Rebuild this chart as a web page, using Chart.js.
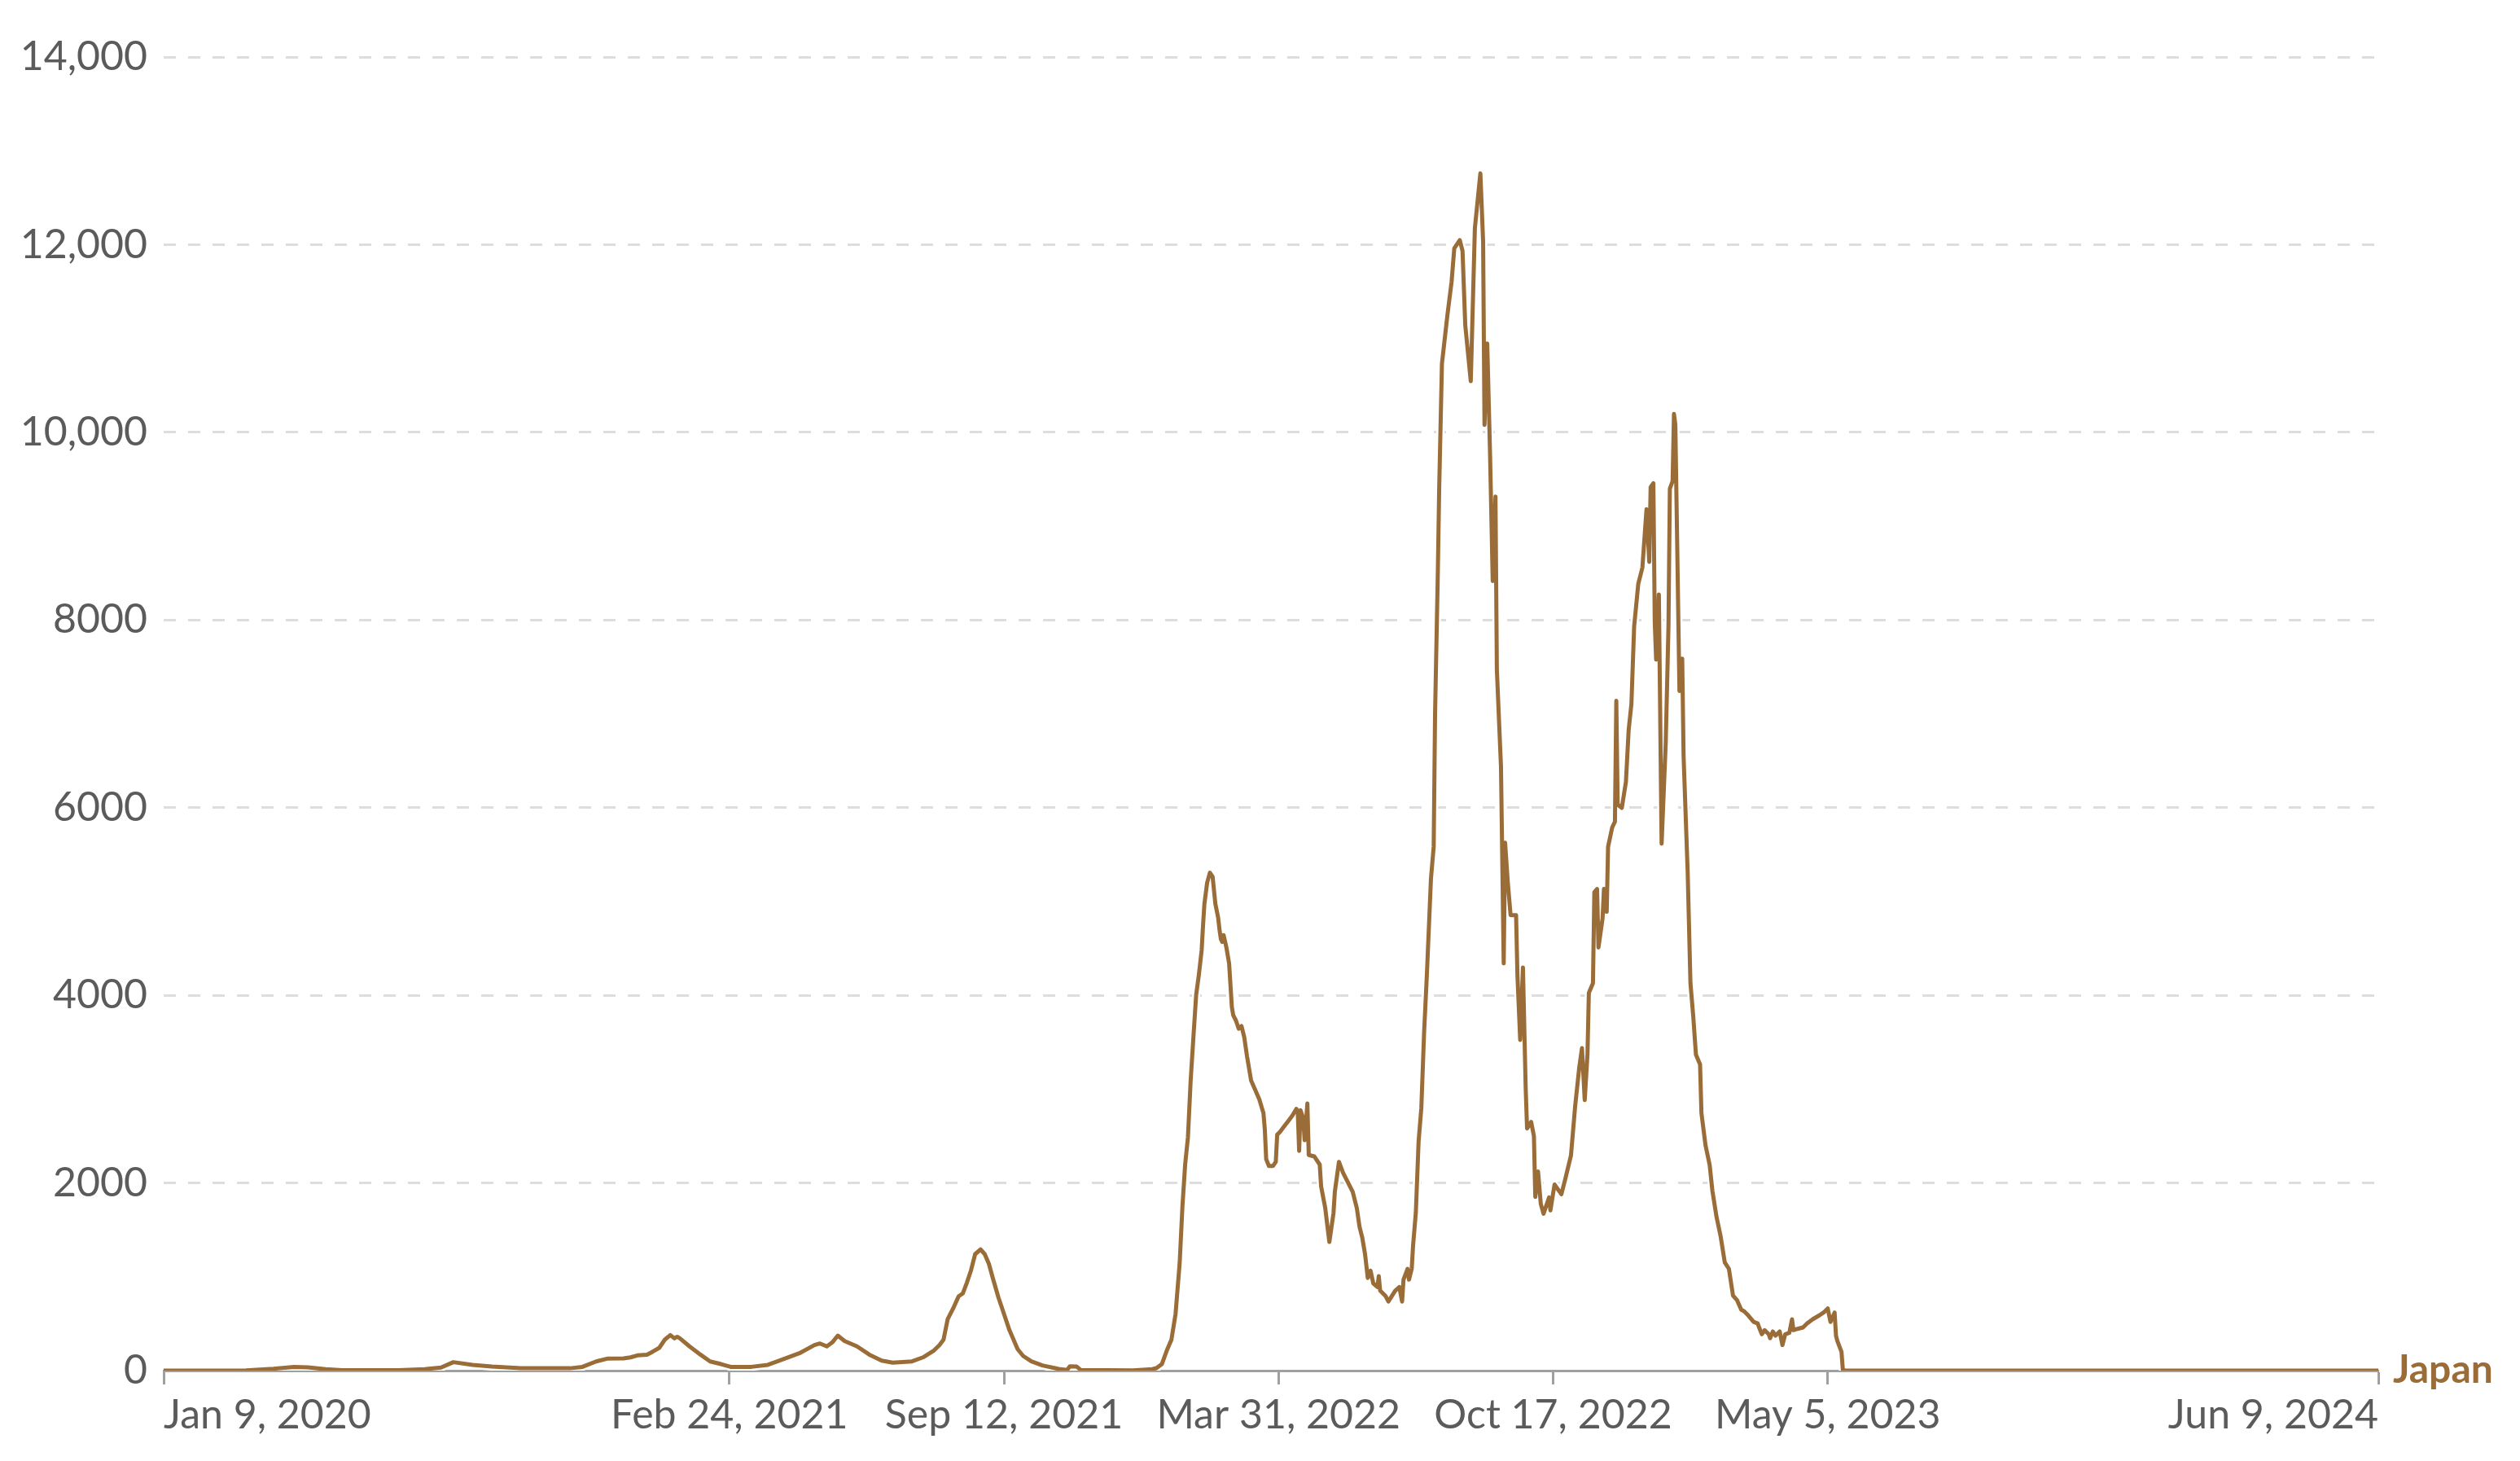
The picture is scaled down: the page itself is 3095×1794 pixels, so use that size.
<!DOCTYPE html>
<html>
<head>
<meta charset="utf-8">
<script src="https://cdn.jsdelivr.net/npm/chart.js@4.4.1/dist/chart.umd.min.js"></script>
<style>
  html, body { margin: 0; padding: 0; background: #fff; }
  #wrap { width: 3095px; height: 1794px; position: relative; }
</style>
</head>
<body>
<div id="wrap"><canvas id="chart"></canvas></div>
<script>
// days since Jan 9, 2020 (first date on the axis)
const days = [
  0, 60, 80, 95, 105, 118, 130, 171, 190, 202,
  211, 225, 239, 260, 296, 305, 315, 323, 335, 340,
  345, 352, 356, 361, 365, 369, 372, 374, 376, 383,
  391, 398, 406, 413, 428, 440, 447, 463, 474, 478,
  483, 487, 491, 496, 505, 514, 523, 531, 545, 553,
  561, 565, 568, 571, 575, 579, 582, 585, 588, 591,
  595, 598, 601, 604, 608, 612, 616, 622, 626, 632,
  640, 652, 658, 660, 665, 668, 706, 720, 723, 727,
  731, 734, 737, 740, 742, 744, 746, 748, 750, 752,
  754, 756, 757, 758, 760, 762, 764, 766, 768, 769,
  770, 771, 772, 774, 776, 778, 779, 781, 783, 785,
  787, 789, 792, 795, 798, 801, 802, 803, 805, 808,
  810, 811, 813, 816, 819, 822, 825, 826, 827, 828,
  830, 831, 833, 834, 838, 842, 843, 846, 849, 852,
  853, 856, 859, 862, 866, 869, 871, 873, 875, 877,
  879, 881, 884, 885, 886, 890, 892, 897, 900, 902,
  903, 906, 907, 909, 910, 912, 914, 916, 918, 920,
  922, 923, 925, 926, 928, 929, 931, 935, 938, 940,
  944, 946, 948, 952, 955, 959, 961, 962, 964, 966,
  968, 970, 971, 974, 976, 977, 979, 981, 985, 986,
  988, 990, 992, 993, 996, 998, 999, 1001, 1003, 1005,
  1009, 1010, 1013, 1018, 1021, 1025, 1028, 1031, 1033, 1035,
  1037, 1038, 1041, 1042, 1044, 1045, 1048, 1049, 1051, 1052,
  1055, 1057, 1058, 1059, 1062, 1065, 1067, 1069, 1071, 1074,
  1077, 1080, 1082, 1083, 1085, 1086, 1087, 1089, 1091, 1094,
  1096, 1097, 1099, 1100, 1101, 1104, 1106, 1107, 1110, 1112,
  1114, 1116, 1119, 1120, 1123, 1126, 1128, 1131, 1134, 1137,
  1140, 1143, 1146, 1149, 1151, 1154, 1158, 1161, 1162, 1164,
  1166, 1169, 1170, 1172, 1174, 1177, 1179, 1181, 1184, 1186,
  1187, 1190, 1194, 1197, 1201, 1206, 1209, 1212, 1214, 1217,
  1218, 1219, 1222, 1223, 1225, 1613
];

const japanValues = [
  0, 2, 20, 40, 35, 15, 5, 5, 15, 32,
  90, 60, 43, 25, 25, 40, 98, 127, 130, 141,
  162, 170, 200, 243, 330, 379, 344, 361, 344, 258,
  170, 98, 69, 40, 40, 61, 98, 185, 272, 289,
  258, 301, 373, 315, 258, 170, 107, 84, 98, 141,
  214, 272, 330, 547, 662, 792, 822, 937, 1068, 1241,
  1291, 1241, 1140, 981, 779, 605, 431, 228, 156, 98,
  55, 17, 6, 46, 43, 6, 3, 15, 26, 69,
  228, 330, 605, 1150, 1750, 2200, 2485, 3093, 3556, 4004,
  4221, 4481, 4742, 4974, 5200, 5306, 5263, 4974, 4829, 4698,
  4598, 4569, 4641, 4511, 4338, 3874, 3787, 3730, 3643, 3672,
  3556, 3353, 3093, 2992, 2890, 2745, 2572, 2254, 2181, 2181,
  2225, 2514, 2543, 2601, 2659, 2717, 2789, 2760, 2341, 2775,
  2688, 2456, 2847, 2298, 2283, 2196, 1964, 1733, 1371, 1675,
  1907, 2225, 2109, 2022, 1907, 1733, 1530, 1415, 1241, 988,
  1065, 930, 891, 1007, 852, 794, 736, 852, 891, 736,
  969, 1085, 969, 1085, 1337, 1686, 2441, 2800, 3600, 4211,
  4897, 5241, 5584, 7000, 8500, 9400, 10731, 11250, 11600, 11961,
  12048, 11933, 11140, 10545, 12178, 12760, 12030, 10080, 10947, 9800,
  8415, 9316, 7472, 6442, 4340, 5627, 5200, 4855, 4855, 4211,
  3524, 4297, 3010, 2581, 2650, 2500, 1851, 2122, 1776, 1672,
  1845, 1707, 1983, 1880, 2052, 2295, 2814, 3229, 3437, 2883,
  3368, 4025, 4129, 5098, 5133, 4509, 4821, 5133, 4890, 5582,
  5789, 5850, 7139, 6032, 5997, 6274, 6828, 7104, 7934, 8385,
  8558, 9180, 8619, 9415, 9458, 7982, 7578, 8272, 5616, 6689,
  7934, 9400, 9480, 10196, 10080, 7243, 7589, 6551, 5305, 4129,
  3783, 3368, 3264, 2745, 2399, 2192, 1915, 1638, 1430, 1154,
  1085, 800, 749, 648, 634, 590, 520, 503, 460, 388,
  431, 388, 345, 417, 373, 417, 272, 388, 402, 547,
  431, 445, 460, 503, 547, 590, 619, 662, 518, 619,
  373, 315, 200, 11, 0, 0
];

const xTickDays = [0, 412, 612, 812, 1012, 1212, 1613];
const yTickValues = [0, 2000, 4000, 6000, 8000, 10000, 12000, 14000];
const seriesName = 'Japan';

const START = Date.UTC(2020, 0, 9);
const MONTHS = ['Jan', 'Feb', 'Mar', 'Apr', 'May', 'Jun', 'Jul', 'Aug', 'Sep', 'Oct', 'Nov', 'Dec'];
const LINE_COLOR = '#9a6d38';
const TEXT_COLOR = '#5b5b5b';
const FONT = 'Lato, "DejaVu Sans", sans-serif';

function dayLabel(d) {
  const dt = new Date(START + d * 86400000);
  return MONTHS[dt.getUTCMonth()] + ' ' + dt.getUTCDate() + ', ' + dt.getUTCFullYear();
}

function yLabel(v) {
  return v >= 10000 ? v.toLocaleString('en-US') : String(v);
}

const makePoints = () => days.map((d, i) => ({ x: d, y: japanValues[i] }));

// name label at the end of the line
const endLabel = {
  id: 'endLabel',
  afterDatasetsDraw(chart) {
    const meta = chart.getDatasetMeta(0);
    const last = meta.data[meta.data.length - 1];
    const ctx = chart.ctx;
    ctx.save();
    ctx.font = 'bold 48px ' + FONT;
    ctx.fillStyle = LINE_COLOR;
    ctx.textAlign = 'left';
    ctx.textBaseline = 'middle';
    ctx.fillText(seriesName, chart.chartArea.right + 18, last.y);
    ctx.restore();
  }
};

function draw() {
  new Chart(document.getElementById('chart'), {
    type: 'line',
    data: {
      datasets: [
        {
          label: seriesName,
          data: makePoints(),
          borderColor: LINE_COLOR,
          borderWidth: 5,
          pointRadius: 0,
          tension: 0,
          borderJoinStyle: 'round',
          order: 1
        },
        {
          // white halo under the line
          label: 'halo',
          data: makePoints(),
          borderColor: '#ffffff',
          borderWidth: 10,
          pointRadius: 0,
          tension: 0,
          order: 2
        }
      ]
    },
    options: {
      responsive: true,
      maintainAspectRatio: false,
      animation: false,
      devicePixelRatio: 1,
      layout: { padding: { top: 70, right: 174, left: 0, bottom: 0 } },
      plugins: {
        legend: { display: false },
        tooltip: { enabled: false }
      },
      scales: {
        x: {
          type: 'linear',
          min: 0,
          max: 1613,
          afterBuildTicks: axis => { axis.ticks = xTickDays.map(v => ({ value: v })); },
          afterFit: axis => { axis.height = 111; },
          ticks: {
            align: 'inner',
            autoSkip: false,
            maxRotation: 0,
            padding: 8,
            color: TEXT_COLOR,
            font: { family: FONT, size: 50 },
            callback: v => dayLabel(v)
          },
          grid: {
            drawOnChartArea: false,
            drawTicks: true,
            tickLength: 17,
            tickColor: '#a0a0a0',
            tickWidth: 3
          },
          border: { display: true, color: '#a0a0a0', width: 3 }
        },
        y: {
          min: 0,
          max: 14000,
          afterBuildTicks: axis => { axis.ticks = yTickValues.map(v => ({ value: v })); },
          afterFit: axis => { axis.width = 201; },
          ticks: {
            padding: 20,
            color: TEXT_COLOR,
            font: { family: FONT, size: 50 },
            callback: v => yLabel(v)
          },
          grid: {
            drawTicks: false,
            lineWidth: 3,
            color: c => (c.tick && c.tick.value === 0) ? 'rgba(0,0,0,0)' : '#dddddd'
          },
          border: { display: false, dash: [15, 15] }
        }
      }
    },
    plugins: [endLabel]
  });
}

if (document.fonts && document.fonts.load) {
  Promise.all([
    document.fonts.load('50px Lato'),
    document.fonts.load('bold 48px Lato')
  ]).then(draw, draw);
} else {
  draw();
}
</script>
</body>
</html>
